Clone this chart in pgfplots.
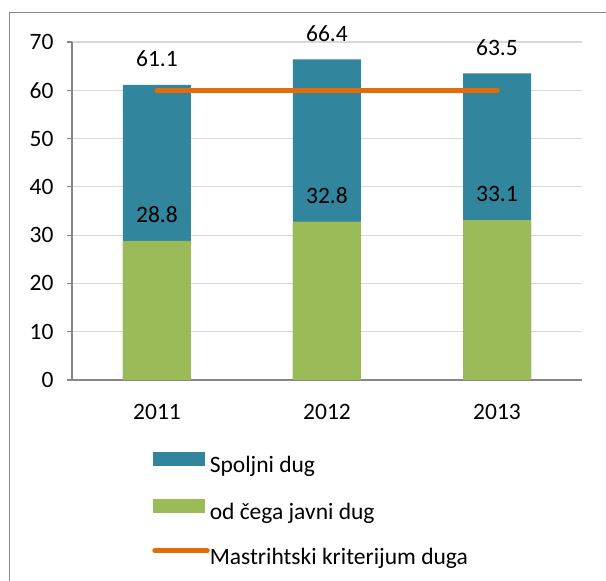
\documentclass[border=0pt]{standalone}
\usepackage{pgfplots}
\pgfplotsset{compat=1.18}
\usepackage{fontspec}
\setmainfont{Carlito}
\definecolor{teal}{HTML}{31859C}
\definecolor{grn}{HTML}{9BBB59}
\definecolor{orn}{HTML}{E46C0A}
\definecolor{gridc}{HTML}{D9D9D9}
\definecolor{axc}{HTML}{868686}
\begin{document}
\begin{tikzpicture}
\begin{axis}[
  at={(0,0)}, anchor=south west,
  scale only axis, width=510pt, height=338pt,
  xmin=-0.5, xmax=2.5, ymin=0, ymax=70,
  axis lines=left, axis line style={-, draw=axc, line width=1.2pt},
  xtick={0,1,2}, xticklabels={2011,2012,2013},
  x tick label style={yshift=-16pt},
  extra x ticks={-0.5,0.5,1.5,2.5}, extra x tick labels={},
  extra x tick style={major tick length=7pt, tick style={draw=axc, line width=1.2pt}},
  ytick={0,10,...,70},
  ymajorgrids, grid style={draw=gridc, line width=1.2pt},
  tick align=outside,
  major tick length=5pt,
  tick style={draw=axc, line width=1.2pt},
  xtick style={draw=none},
  y tick label style={xshift=-10pt},
  /pgf/number format/assume math mode=true,
  tick label style={font=\fontsize{23.5}{28}\selectfont},
  nodes near coords style={font=\fontsize{23.5}{28}\selectfont, anchor=center, yshift=26pt, /pgf/number format/fixed, /pgf/number format/precision=1, /pgf/number format/fixed zerofill},
  legend style={draw=none, fill=none, at={(axis description cs:0.157,-0.213)}, anchor=north west,
    font=\fontsize{23.5}{28}\selectfont, row sep=20pt, inner sep=0pt,
    nodes={inner sep=0pt, text height=19pt, text depth=6pt, xshift=4pt}},
  legend cell align=left,
]
\addplot[ybar, bar width=68pt, bar shift=0pt, fill=teal, draw=none, nodes near coords,
  legend image code/.code={\fill[teal] (0pt,0pt) rectangle (52pt,14pt);}]
  coordinates {(0,61.1) (1,66.4) (2,63.5)};
\addlegendentry{Spoljni dug}
\addplot[ybar, bar width=68pt, bar shift=0pt, fill=grn, draw=none, nodes near coords,
  legend image code/.code={\fill[grn] (0pt,0pt) rectangle (52pt,14pt);}]
  coordinates {(0,28.8) (1,32.8) (2,33.1)};
\addlegendentry{od čega javni dug}
\addplot[orn, line width=5.5pt, line cap=round,
  legend image code/.code={\draw[orn, line width=5.5pt, line cap=round] (2pt,7pt) -- (54pt,7pt);}]
  coordinates {(0,60) (2,60)};
\addlegendentry{Mastrihtski kriterijum duga}
\end{axis}
\draw[axc, line width=1.2pt] (-62.5pt,-220pt) -- (-62.5pt,367.5pt) -- (560pt,367.5pt);
\pgfresetboundingbox
\useasboundingbox (-72pt,-201pt) rectangle (534pt,380pt);
\end{tikzpicture}
\end{document}
